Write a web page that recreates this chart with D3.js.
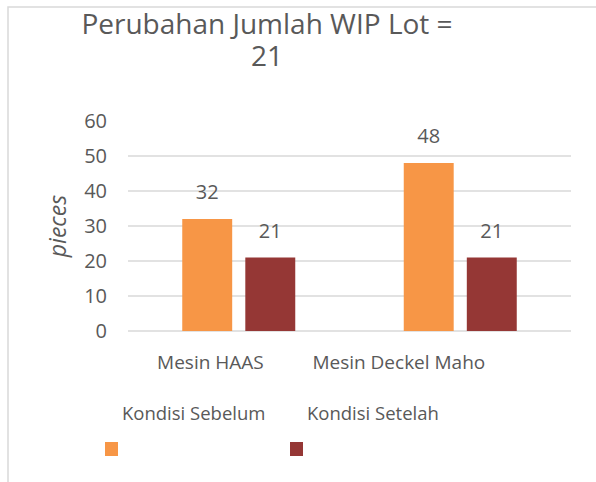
<!DOCTYPE html>
<html>
  <head>
    <meta charset="utf-8">
    <script src="https://d3js.org/d3.v7.min.js"></script>
    <title></title>
    <style>
    body {
      margin: 0;
      background-color: #fff;
    }
    svg {
      display: block;
      font-family: "Open Sans", sans-serif;
    }
    .txt {
      fill: #595959;
    }
    </style>
  </head>
  <body>
    <script type="text/javascript">
      let categories = ['Mesin HAAS', 'Mesin Deckel Maho']
      let seriesNames = ['Kondisi Sebelum', 'Kondisi Setelah']
      let sebelum = [32, 48]
      let setelah = [21, 21]
      let yTicks = [0, 10, 20, 30, 40, 50, 60]
      let colors = ['#f79646', '#953735']

      let w = 596
      let h = 482
      let svg = d3.select('body')
                  .append('svg')
                  .attr('width', w)
                  .attr('height', h)

      // chart area border (runs off the right/bottom edge)
      svg.append('rect')
         .attr('x', 8)
         .attr('y', 7)
         .attr('width', 700)
         .attr('height', 600)
         .attr('fill', 'none')
         .attr('stroke', '#d9d9d9')
         .attr('stroke-width', 1.5)

      // title
      let title = svg.append('text')
                     .attr('class', 'txt')
                     .attr('text-anchor', 'middle')
                     .style('font-size', '28px')
      title.append('tspan').attr('x', 267).attr('y', 34).text('Perubahan Jumlah WIP Lot =')
      title.append('tspan').attr('x', 267).attr('y', 66).text('21')

      let xScale = d3.scaleBand()
                     .domain(categories)
                     .range([128, 571])
      let xInner = d3.scaleBand()
                     .domain(seriesNames)
                     .range([0, 113])
                     .paddingInner(0.208)
      let yScale = d3.scaleLinear()
                     .domain([0, 60])
                     .range([331, 121])

      // gridlines (no line at the top tick)
      svg.append('g')
         .selectAll('line')
         .data(yTicks.filter(t => t < 60))
         .enter()
         .append('line')
         .attr('x1', 128)
         .attr('x2', 571)
         .attr('y1', d => yScale(d))
         .attr('y2', d => yScale(d))
         .attr('stroke', '#d9d9d9')
         .attr('stroke-width', 1.5)

      // y axis labels
      let yAxis = svg.append('g')
                     .attr('transform', 'translate(107, 0)')
                     .call(d3.axisLeft(yScale).tickValues(yTicks).tickSize(0).tickPadding(0))
      yAxis.select('.domain').remove()
      yAxis.selectAll('text')
           .attr('class', 'txt')
           .attr('fill', null)
           .style('font-size', '20px')
           .style('font-family', '"Open Sans", sans-serif')

      svg.append('text')
         .attr('class', 'txt')
         .attr('transform', 'translate(66, 226) rotate(-90)')
         .attr('text-anchor', 'middle')
         .style('font-size', '23px')
         .style('font-style', 'italic')
         .text('pieces')

      let rows = []
      categories.forEach((c, i) => {
        rows.push({cat: c, s: seriesNames[0], v: sebelum[i], col: colors[0]})
        rows.push({cat: c, s: seriesNames[1], v: setelah[i], col: colors[1]})
      })
      let groupOff = (xScale.bandwidth() - 113) / 2

      svg.selectAll('rect.bar')
         .data(rows)
         .enter()
         .append('rect')
         .attr('class', 'bar')
         .attr('x', d => xScale(d.cat) + groupOff + xInner(d.s))
         .attr('y', d => yScale(d.v))
         .attr('width', xInner.bandwidth())
         .attr('height', d => yScale(0) - yScale(d.v))
         .attr('fill', d => d.col)

      svg.selectAll('text.lbl')
         .data(rows)
         .enter()
         .append('text')
         .attr('class', 'txt lbl')
         .attr('text-anchor', 'middle')
         .attr('x', d => xScale(d.cat) + groupOff + xInner(d.s) + xInner.bandwidth() / 2)
         .attr('y', d => yScale(d.v) - 20)
         .style('font-size', '20px')
         .text(d => d.v)

      // category labels
      svg.selectAll('text.cat')
         .data(categories)
         .enter()
         .append('text')
         .attr('class', 'txt cat')
         .attr('text-anchor', 'end')
         .attr('x', d => xScale(d) + xScale.bandwidth() / 2 + 25)
         .attr('y', 369)
         .style('font-size', '19px')
         .text(d => d)

      // legend
      let legend = svg.selectAll('g.leg')
                      .data(seriesNames)
                      .enter()
                      .append('g')
                      .attr('class', 'leg')
                      .attr('transform', (d, i) => `translate(${105 + i * 185}, 0)`)
      legend.append('rect')
            .attr('x', 0)
            .attr('y', 442)
            .attr('width', 13)
            .attr('height', 14)
            .attr('fill', (d, i) => colors[i])
      legend.append('text')
            .attr('class', 'txt')
            .attr('x', 17)
            .attr('y', 420)
            .style('font-size', '18.5px')
            .text(d => d)
    </script>
  </body>
</html>
